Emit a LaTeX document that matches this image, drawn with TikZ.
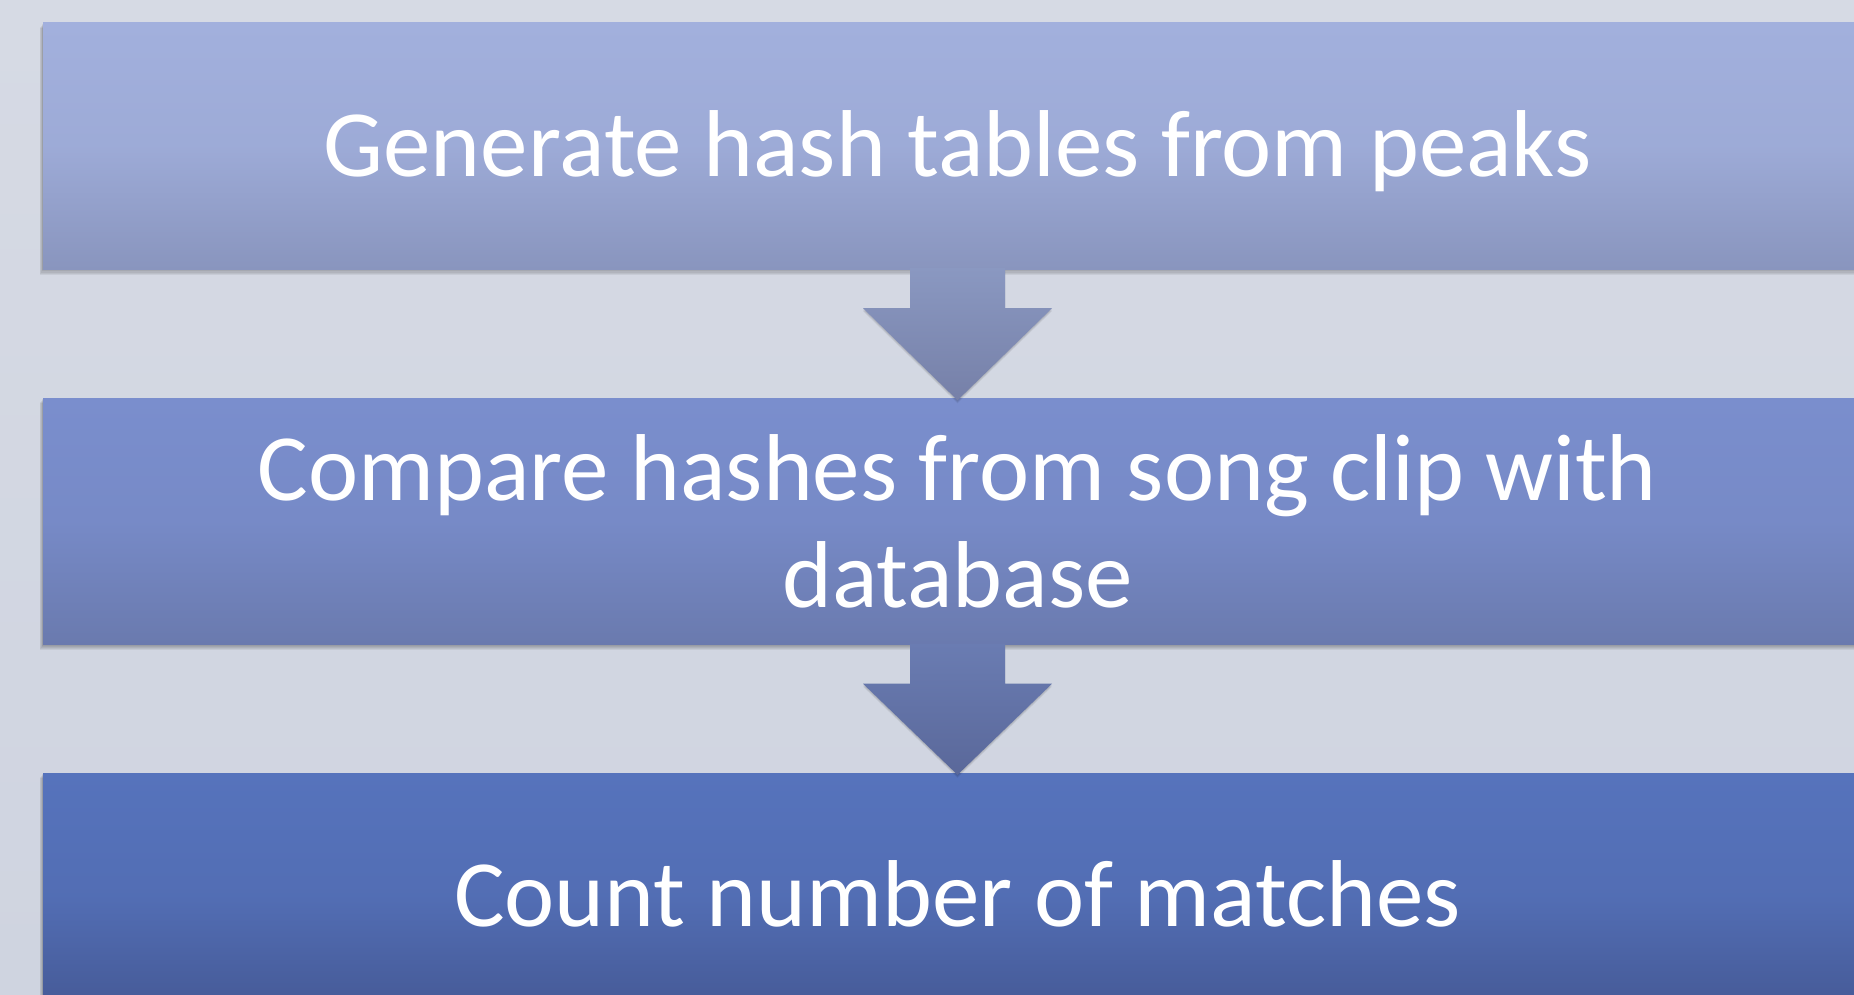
\documentclass[tikz,border=0pt]{standalone}
\usepackage{fontspec}
\setmainfont{Carlito}
\usetikzlibrary{calc}
\definecolor{bgtop}{RGB}{214,218,228}
\definecolor{bgbot}{RGB}{207,212,224}
\definecolor{aTop}{RGB}{162,176,221}
\definecolor{aBot}{RGB}{137,149,190}
\definecolor{bTop}{RGB}{122,142,205}
\definecolor{bBot}{RGB}{106,122,174}
\definecolor{cTop}{RGB}{86,115,188}
\definecolor{cBot}{RGB}{68,88,148}
\definecolor{arTopA}{RGB}{138,152,193}
\definecolor{arBotA}{RGB}{118,128,168}
\definecolor{arTopB}{RGB}{106,124,178}
\definecolor{arBotB}{RGB}{90,104,154}
\pgfdeclarelayer{bglayer}
\pgfdeclarelayer{shadowlayer}
\pgfsetlayers{bglayer,shadowlayer,main}
\tikzset{
  stepbox/.style={rectangle, minimum width=1829pt, minimum height=246pt, inner sep=0pt,
    text=white, font=\fontsize{95}{107}\selectfont, align=center, text height=61pt, text depth=0pt},
  shadowfill/.style={fill=black, opacity=0.06},
}
\newcommand{\myboxshadow}[1]{%
  \foreach \d in {1,2,3,4,5}{\fill[shadowfill] ($(#1.north west)+(-\d*0.6pt,-\d*1pt)$) rectangle ($(#1.south east)+(0,-\d*1.1pt)$);}}
\newcommand{\mydownarrow}[4]{% from, to, topcolor, bottomcolor
  \coordinate (s) at (#1.south); \coordinate (e) at (#2.north);
  \foreach \d in {1,2,3}{\fill[shadowfill]
    ($(s)+(-47.5pt,-\d pt)$) -- ($(s)+(47.5pt,-\d pt)$) -- ($(s)+(47.5pt,-39pt-\d pt)$) -- ($(s)+(94.5pt,-39pt-\d pt)$)
    -- ($(e)+(0,-2pt-\d pt)$) -- ($(s)+(-94.5pt,-39pt-\d pt)$) -- ($(s)+(-47.5pt,-39pt-\d pt)$) -- cycle;}
  \shade[top color=#3, bottom color=#4]
    ($(s)+(-47.5pt,1pt)$) -- ($(s)+(47.5pt,1pt)$) -- ($(s)+(47.5pt,-39pt)$) -- ($(s)+(94.5pt,-39pt)$)
    -- ($(e)+(0,-2pt)$) -- ($(s)+(-94.5pt,-39pt)$) -- ($(s)+(-47.5pt,-39pt)$) -- cycle;}
\begin{document}
\begin{tikzpicture}[x=1pt,y=-1pt]
\begin{pgfonlayer}{bglayer}
\shade[top color=bgtop, bottom color=bgbot] (0,0) rectangle (1854,995);
\end{pgfonlayer}
\useasboundingbox (0,0) rectangle (1854,995);
\node[stepbox, top color=aTop, bottom color=aBot, middle color=aTop!80!aBot] (box1) at (957.5,146) {Generate hash tables from peaks};
\node[stepbox, top color=bTop, bottom color=bBot, middle color=bTop!80!bBot, text height={}, text depth={}] (box2) at (957.5,521.5) {Compare hashes from song clip with\\database};
\node[stepbox, top color=cTop, bottom color=cBot, middle color=cTop!80!cBot] (box3) at (957.5,896) {Count number of matches};
\begin{pgfonlayer}{shadowlayer}
\myboxshadow{box1}
\myboxshadow{box2}
\myboxshadow{box3}
\end{pgfonlayer}
\mydownarrow{box1}{box2}{arTopA}{arBotA}
\mydownarrow{box2}{box3}{arTopB}{arBotB}
\end{tikzpicture}
\end{document}
